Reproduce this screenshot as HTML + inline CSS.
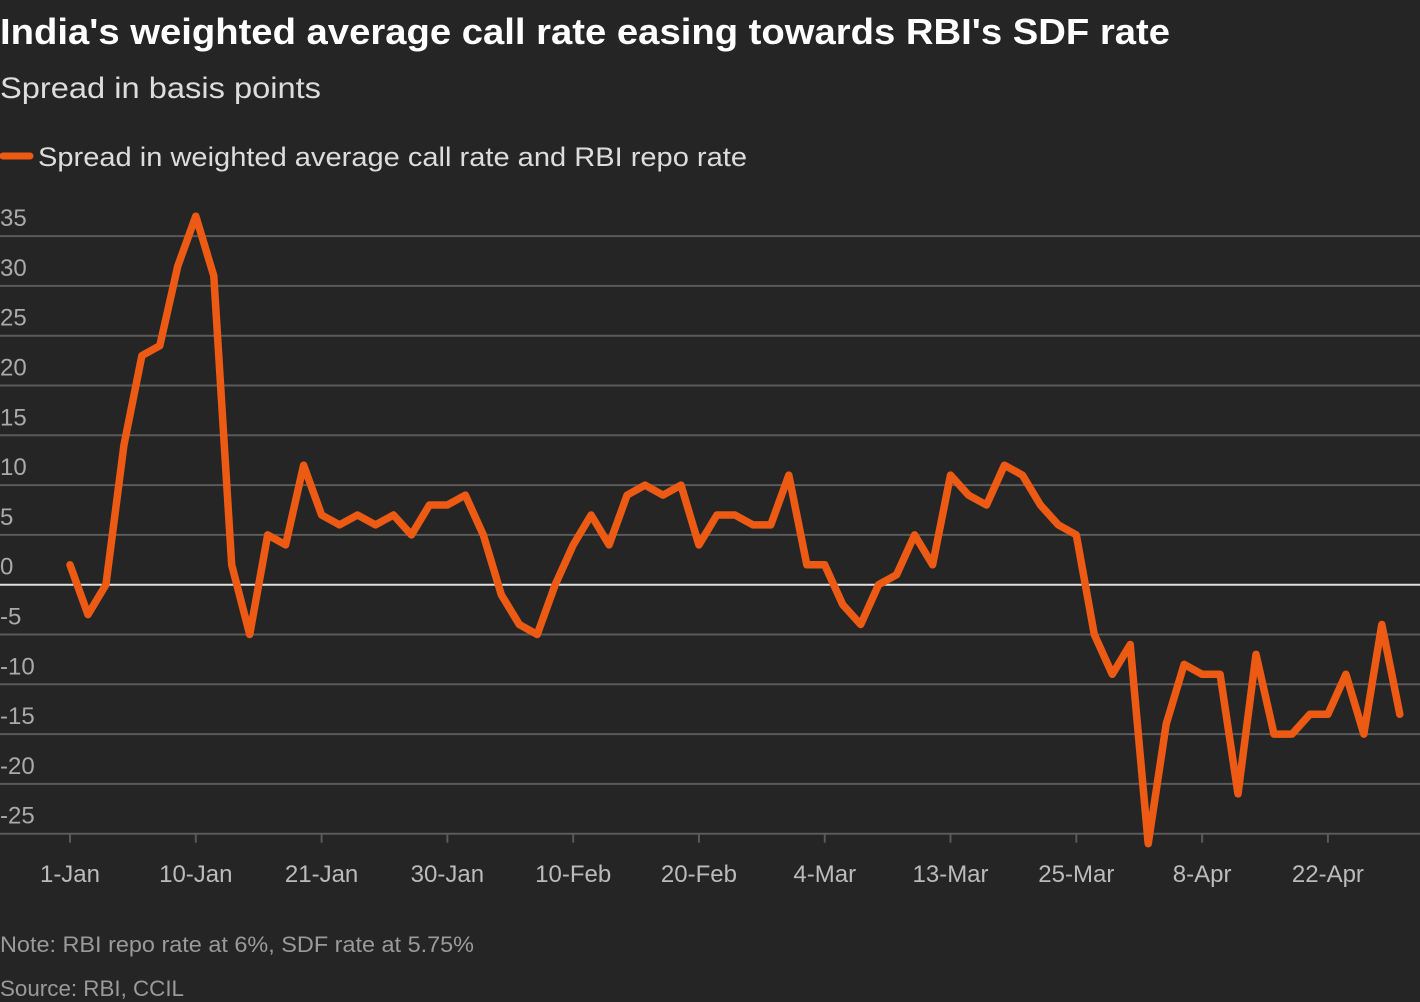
<!DOCTYPE html>
<html><head><meta charset="utf-8"><style>
body{margin:0;background:#252525;width:1420px;height:1002px;overflow:hidden;font-family:"Liberation Sans",sans-serif;}
svg{display:block}
</style></head><body>
<svg id="chart" width="1420" height="1002" xmlns="http://www.w3.org/2000/svg">
<rect width="1420" height="1002" fill="#252525"/>
<text x="0" y="44" fill="#ffffff" font-size="36" font-weight="bold" textLength="1170" lengthAdjust="spacingAndGlyphs">India's weighted average call rate easing towards RBI's SDF rate</text>
<text x="0" y="98" fill="#dddddd" font-size="30" textLength="321" lengthAdjust="spacingAndGlyphs">Spread in basis points</text>
<g>
<line x1="3" y1="156" x2="30" y2="156" stroke="#ec5a14" stroke-width="7" stroke-linecap="round"/>
<text x="38" y="166" fill="#dddddd" font-size="27" textLength="709" lengthAdjust="spacingAndGlyphs">Spread in weighted average call rate and RBI repo rate</text>
</g>
<g id="grid"></g>
<g id="xaxis"></g>
<path id="series" fill="none" stroke="#ec5a14" stroke-width="7.5" stroke-linejoin="round" stroke-linecap="round"/>
<text x="0" y="952" fill="#9a9a9a" font-size="22" textLength="474" lengthAdjust="spacingAndGlyphs">Note: RBI repo rate at 6%, SDF rate at 5.75%</text>
<text x="0" y="996" fill="#9a9a9a" font-size="22" textLength="184" lengthAdjust="spacingAndGlyphs">Source: RBI, CCIL</text>
</svg>
<script>
const values=[2,-3,0,14,23,24,32,37,31,2,-5,5,4,12,7,6,7,6,7,5,8,8,9,5,-1,-4,-5,0,4,7,4,9,10,9,10,4,7,7,6,6,11,2,2,-2,-4,0,1,5,2,11,9,8,12,11,8,6,5,-5,-9,-6,-26,-14,-8,-9,-9,-21,-7,-15,-15,-13,-13,-9,-15,-4,-13];
const yTicks=[35,30,25,20,15,10,5,0,-5,-10,-15,-20,-25];
const xTickLabels=["1-Jan","10-Jan","21-Jan","30-Jan","10-Feb","20-Feb","4-Mar","13-Mar","25-Mar","8-Apr","22-Apr"];
const xTickIdx=[0,7,14,21,28,35,42,49,56,63,70];

const NS="http://www.w3.org/2000/svg";
const y=v=>584.7-v*9.96;
const x=i=>70+i*17.97;
const grid=document.getElementById('grid');
yTicks.forEach(t=>{
  const l=document.createElementNS(NS,'line');
  
  
  l.setAttribute('x1',0);l.setAttribute('x2',1420);
  l.setAttribute('y1',y(t));l.setAttribute('y2',y(t));
  l.setAttribute('stroke',t===0?'#e0e0e0':'#5a5a5a');l.setAttribute('stroke-width',2);
  grid.appendChild(l);
  const tx=document.createElementNS(NS,'text');
  
  
  tx.setAttribute('x',0);tx.setAttribute('y',y(t)-10);
  tx.setAttribute('fill','#aaaaaa');tx.setAttribute('font-size','24');
  tx.textContent=t;
  grid.appendChild(tx);
});
const xa=document.getElementById('xaxis');
xTickIdx.forEach((idx,k)=>{
  const l=document.createElementNS(NS,'line');
  
  
  l.setAttribute('x1',x(idx));l.setAttribute('x2',x(idx));
  l.setAttribute('y1',y(-25));l.setAttribute('y2',y(-25)+9);
  l.setAttribute('stroke','#5a5a5a');l.setAttribute('stroke-width',2);
  xa.appendChild(l);
  const tx=document.createElementNS(NS,'text');
  
  
  tx.setAttribute('x',x(idx));tx.setAttribute('y',882);
  tx.setAttribute('text-anchor','middle');
  tx.setAttribute('fill','#bbbbbb');tx.setAttribute('font-size','24');
  tx.textContent=xTickLabels[k];
  xa.appendChild(tx);
});
document.getElementById('series').setAttribute('d',values.map((v,i)=>(i?'L':'M')+x(i).toFixed(1)+' '+y(v).toFixed(1)).join(' '));
</script>
</body></html>
